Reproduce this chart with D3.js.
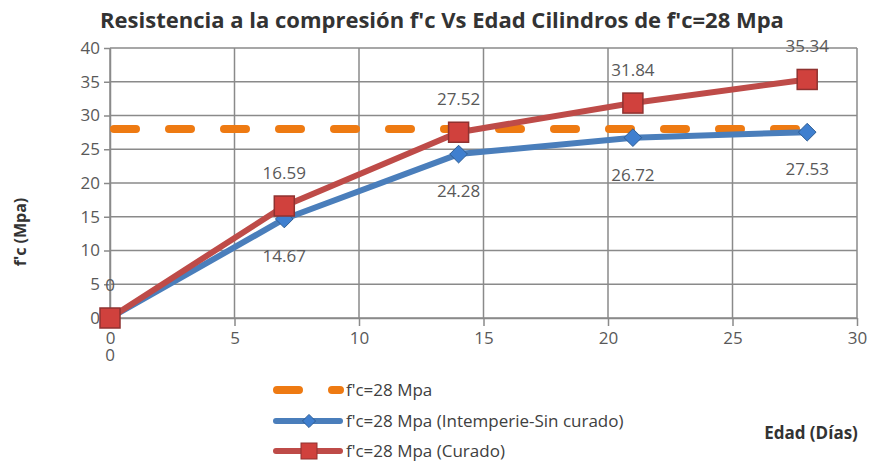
<!DOCTYPE html>
<html>
<head>
<meta charset="utf-8">
<script src="https://cdn.jsdelivr.net/npm/d3@7"></script>
<style>
body{margin:0;background:#fff;}
svg text{font-family:"Open Sans",sans-serif;}
</style>
</head>
<body>
<div id="chartDiv"></div>
<script>
// data
var edad=[0,7,14,21,28];
var sinCurado=[0,14.67,24.28,26.72,27.53];
var curado=[0,16.59,27.52,31.84,35.34];
var referencia=28;
var refEdad=[0,28];
var xTicks=[0,5,10,15,20,25,30];
var yTicks=[0,5,10,15,20,25,30,35,40];
var serieNames=["f'c=28 Mpa","f'c=28 Mpa (Intemperie-Sin curado)","f'c=28 Mpa (Curado)"];

var width=873,height=464;
var margin={top:48,right:16,bottom:146,left:110};

var svg=d3.select("#chartDiv").append("svg")
    .attr("width",width)
    .attr("height",height);

var xScale=d3.scaleLinear().domain([0,30]).range([margin.left,width-margin.right]);
var yScale=d3.scaleLinear().domain([0,40]).range([height-margin.bottom,margin.top]);

var gridColor="#8a8a8a";
var textColor="#595959";

// grid
svg.append("g").selectAll("line.h")
    .data(yTicks)
    .enter().append("line")
    .attr("x1",margin.left).attr("x2",width-margin.right)
    .attr("y1",function(d){return yScale(d);})
    .attr("y2",function(d){return yScale(d);})
    .attr("stroke",gridColor).attr("stroke-width",1.5);

svg.append("g").selectAll("line.v")
    .data(xTicks)
    .enter().append("line")
    .attr("y1",yScale(40)).attr("y2",yScale(0))
    .attr("x1",function(d){return xScale(d);})
    .attr("x2",function(d){return xScale(d);})
    .attr("stroke",gridColor).attr("stroke-width",1.5);

// axes
var x_axis=d3.axisBottom(xScale).tickValues(xTicks).tickSize(8).tickSizeOuter(0).tickPadding(6);
var gx=svg.append("g")
    .attr("transform","translate(0,"+yScale(0)+")")
    .call(x_axis);
var y_axis=d3.axisLeft(yScale).tickValues(yTicks).tickSize(6).tickSizeOuter(0).tickPadding(4);
var gy=svg.append("g")
    .attr("transform","translate("+xScale(0)+",0)")
    .call(y_axis);
[gx,gy].forEach(function(g){
    g.select(".domain").attr("stroke",gridColor).attr("stroke-width",1.5);
    g.selectAll(".tick line").attr("stroke",gridColor).attr("stroke-width",1.5);
    g.selectAll(".tick text").attr("fill",textColor)
        .style("font-size","17px")
        .style("font-family","'Open Sans',sans-serif");
});

// reference dashed line
var line=d3.line()
    .x(function(d){return xScale(d[0]);})
    .y(function(d){return yScale(d[1]);});

svg.append("path")
    .datum(refEdad.map(function(e){return [e,referencia];}))
    .attr("d",line)
    .attr("fill","none")
    .attr("stroke","#ee7a12")
    .attr("stroke-width",8)
    .attr("stroke-linecap","round")
    .attr("stroke-dasharray","22,33")
    .attr("stroke-dashoffset",-4);

// blue series
var blueData=edad.map(function(e,i){return [e,sinCurado[i]];});
var redData=edad.map(function(e,i){return [e,curado[i]];});

svg.append("path")
    .datum(blueData)
    .attr("d",line)
    .attr("fill","none")
    .attr("stroke","#4a7ebb")
    .attr("stroke-width",6)
    .attr("stroke-linejoin","round");

svg.selectAll("diamonds")
    .data(blueData)
    .enter().append("path")
    .attr("d",d3.symbol().type(d3.symbolDiamond2).size(200))
    .attr("transform",function(d){return "translate("+xScale(d[0])+","+yScale(d[1])+")";})
    .attr("fill","#3f7fcf")
    .attr("stroke","#2e5d94")
    .attr("stroke-width",1);

// red series
svg.append("path")
    .datum(redData)
    .attr("d",line)
    .attr("fill","none")
    .attr("stroke","#be4b48")
    .attr("stroke-width",6)
    .attr("stroke-linejoin","round");

svg.selectAll("squares")
    .data(redData)
    .enter().append("rect")
    .attr("x",function(d){return xScale(d[0])-10;})
    .attr("y",function(d){return yScale(d[1])-10;})
    .attr("width",20).attr("height",20)
    .attr("fill","#d0413d")
    .attr("stroke","#8f3230")
    .attr("stroke-width",1.5);

// data labels
svg.selectAll("redLabels")
    .data(redData)
    .enter().append("text")
    .attr("x",function(d){return xScale(d[0]);})
    .attr("y",function(d){return yScale(d[1])-27;})
    .attr("text-anchor","middle")
    .attr("fill",textColor)
    .style("font-size","17px")
    .text(function(d){return d[1];});

svg.selectAll("blueLabels")
    .data(blueData)
    .enter().append("text")
    .attr("x",function(d){return xScale(d[0]);})
    .attr("y",function(d){return yScale(d[1])+43;})
    .attr("text-anchor","middle")
    .attr("fill",textColor)
    .style("font-size","17px")
    .text(function(d){return d[1];});

// title
svg.append("text")
    .attr("x",442).attr("y",28)
    .attr("text-anchor","middle")
    .attr("fill","#333")
    .style("font-size","22px")
    .style("font-weight","bold")
    .text("Resistencia a la compresión f'c Vs Edad Cilindros de f'c=28 Mpa");

// axis titles
svg.append("text")
    .attr("transform","translate(26,232) rotate(-90)")
    .attr("text-anchor","middle")
    .attr("fill","#333")
    .style("font-size","16px")
    .style("font-weight","bold")
    .text("f'c (Mpa)");

svg.append("text")
    .attr("x",811).attr("y",439)
    .attr("text-anchor","middle")
    .attr("fill","#333")
    .style("font-size","17px")
    .style("font-weight","bold")
    .text("Edad (Días)");

// legend
var legendY=[390,421,451];
var legend=svg.append("g");
legend.append("line")
    .attr("x1",277).attr("x2",340)
    .attr("y1",legendY[0]).attr("y2",legendY[0])
    .attr("stroke","#ee7a12").attr("stroke-width",8)
    .attr("stroke-linecap","round")
    .attr("stroke-dasharray","22,33");
legend.append("line")
    .attr("x1",276).attr("x2",340)
    .attr("y1",legendY[1]).attr("y2",legendY[1])
    .attr("stroke","#4a7ebb").attr("stroke-width",6)
    .attr("stroke-linecap","round");
legend.append("path")
    .attr("d",d3.symbol().type(d3.symbolDiamond2).size(110))
    .attr("transform","translate(309,"+legendY[1]+")")
    .attr("fill","#3f7fcf").attr("stroke","#2e5d94");
legend.append("line")
    .attr("x1",276).attr("x2",340)
    .attr("y1",legendY[2]).attr("y2",legendY[2])
    .attr("stroke","#be4b48").attr("stroke-width",6)
    .attr("stroke-linecap","round");
legend.append("rect")
    .attr("x",301).attr("y",legendY[2]-8)
    .attr("width",16).attr("height",16)
    .attr("fill","#d0413d").attr("stroke","#8f3230");

legend.selectAll("legText")
    .data(serieNames)
    .enter().append("text")
    .attr("x",346)
    .attr("y",function(d,i){return legendY[i]+6;})
    .attr("fill","#404040")
    .style("font-size","17px")
    .text(function(d){return d;});
</script>
</body>
</html>
